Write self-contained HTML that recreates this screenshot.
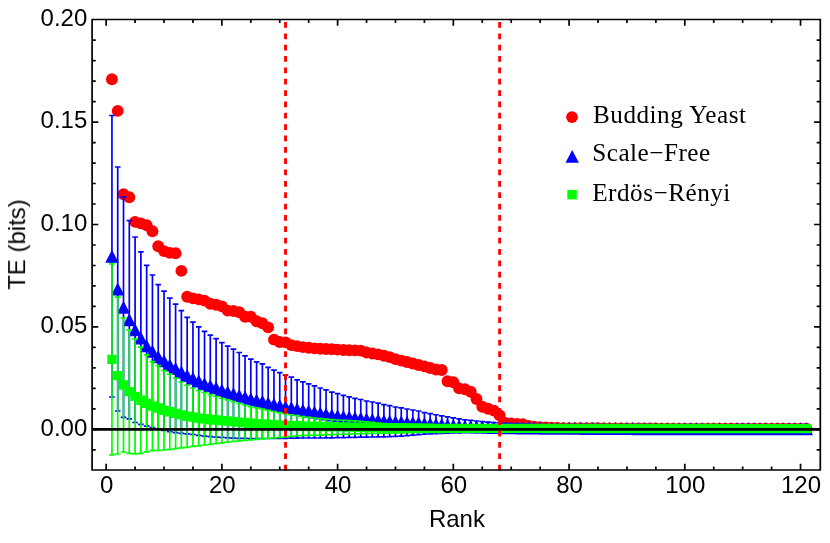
<!DOCTYPE html>
<html><head><meta charset="utf-8"><title>TE vs Rank</title>
<style>html,body{margin:0;padding:0;background:#fff}body{width:830px;height:543px;overflow:hidden;font-family:"Liberation Sans",sans-serif}</style>
</head><body>
<svg width="830" height="543" viewBox="0 0 830 543" style="display:block">
<rect width="830" height="543" fill="#fff"/>
<g fill="#f00">
<circle cx="111.94" cy="79.30" r="5.95"/>
<circle cx="117.72" cy="110.90" r="5.95"/>
<circle cx="123.51" cy="194.20" r="5.95"/>
<circle cx="129.30" cy="197.30" r="5.95"/>
<circle cx="135.08" cy="221.90" r="5.95"/>
<circle cx="140.87" cy="223.40" r="5.95"/>
<circle cx="146.66" cy="225.20" r="5.95"/>
<circle cx="152.44" cy="231.20" r="5.95"/>
<circle cx="158.23" cy="246.20" r="5.95"/>
<circle cx="164.02" cy="251.10" r="5.95"/>
<circle cx="169.80" cy="252.90" r="5.95"/>
<circle cx="175.59" cy="253.30" r="5.95"/>
<circle cx="181.37" cy="270.90" r="5.95"/>
<circle cx="187.16" cy="296.70" r="5.95"/>
<circle cx="192.95" cy="298.40" r="5.95"/>
<circle cx="198.73" cy="299.40" r="5.95"/>
<circle cx="204.52" cy="300.60" r="5.95"/>
<circle cx="210.31" cy="303.80" r="5.95"/>
<circle cx="216.09" cy="304.80" r="5.95"/>
<circle cx="221.88" cy="306.40" r="5.95"/>
<circle cx="227.67" cy="310.60" r="5.95"/>
<circle cx="233.45" cy="311.00" r="5.95"/>
<circle cx="239.24" cy="312.20" r="5.95"/>
<circle cx="245.03" cy="316.80" r="5.95"/>
<circle cx="250.81" cy="316.80" r="5.95"/>
<circle cx="256.60" cy="321.30" r="5.95"/>
<circle cx="262.39" cy="323.20" r="5.95"/>
<circle cx="268.17" cy="327.40" r="5.95"/>
<circle cx="273.96" cy="339.60" r="5.95"/>
<circle cx="279.75" cy="342.00" r="5.95"/>
<circle cx="285.53" cy="342.40" r="5.95"/>
<circle cx="291.32" cy="345.10" r="5.95"/>
<circle cx="297.10" cy="346.10" r="5.95"/>
<circle cx="302.89" cy="347.10" r="5.95"/>
<circle cx="308.68" cy="347.70" r="5.95"/>
<circle cx="314.46" cy="348.40" r="5.95"/>
<circle cx="320.25" cy="348.70" r="5.95"/>
<circle cx="326.04" cy="349.00" r="5.95"/>
<circle cx="331.82" cy="349.30" r="5.95"/>
<circle cx="337.61" cy="349.60" r="5.95"/>
<circle cx="343.40" cy="350.00" r="5.95"/>
<circle cx="349.18" cy="350.20" r="5.95"/>
<circle cx="354.97" cy="350.40" r="5.95"/>
<circle cx="360.76" cy="350.60" r="5.95"/>
<circle cx="366.54" cy="352.50" r="5.95"/>
<circle cx="372.33" cy="353.50" r="5.95"/>
<circle cx="378.12" cy="354.40" r="5.95"/>
<circle cx="383.90" cy="355.80" r="5.95"/>
<circle cx="389.69" cy="357.10" r="5.95"/>
<circle cx="395.48" cy="359.10" r="5.95"/>
<circle cx="401.26" cy="360.60" r="5.95"/>
<circle cx="407.05" cy="362.00" r="5.95"/>
<circle cx="412.83" cy="363.50" r="5.95"/>
<circle cx="418.62" cy="365.00" r="5.95"/>
<circle cx="424.41" cy="366.40" r="5.95"/>
<circle cx="430.19" cy="368.00" r="5.95"/>
<circle cx="435.98" cy="369.50" r="5.95"/>
<circle cx="441.77" cy="370.00" r="5.95"/>
<circle cx="447.55" cy="381.20" r="5.95"/>
<circle cx="453.34" cy="382.20" r="5.95"/>
<circle cx="459.13" cy="388.40" r="5.95"/>
<circle cx="464.91" cy="389.30" r="5.95"/>
<circle cx="470.70" cy="391.80" r="5.95"/>
<circle cx="476.49" cy="399.00" r="5.95"/>
<circle cx="482.27" cy="406.70" r="5.95"/>
<circle cx="488.06" cy="408.70" r="5.95"/>
<circle cx="493.85" cy="410.60" r="5.95"/>
<circle cx="499.63" cy="415.40" r="5.95"/>
<circle cx="505.42" cy="422.90" r="5.95"/>
<circle cx="511.21" cy="423.40" r="5.95"/>
<circle cx="516.99" cy="423.90" r="5.95"/>
<circle cx="522.78" cy="424.20" r="5.95"/>
<circle cx="528.56" cy="426.00" r="5.95"/>
<circle cx="534.35" cy="426.60" r="5.95"/>
<circle cx="540.14" cy="427.20" r="5.95"/>
<circle cx="545.92" cy="427.50" r="5.95"/>
<circle cx="551.71" cy="427.80" r="5.95"/>
<circle cx="557.50" cy="428.00" r="5.95"/>
<circle cx="563.28" cy="428.10" r="5.95"/>
<circle cx="569.07" cy="428.20" r="5.95"/>
<circle cx="574.86" cy="428.22" r="5.95"/>
<circle cx="580.64" cy="428.25" r="5.95"/>
<circle cx="586.43" cy="428.27" r="5.95"/>
<circle cx="592.22" cy="428.30" r="5.95"/>
<circle cx="598.00" cy="428.32" r="5.95"/>
<circle cx="603.79" cy="428.35" r="5.95"/>
<circle cx="609.58" cy="428.38" r="5.95"/>
<circle cx="615.36" cy="428.40" r="5.95"/>
<circle cx="621.15" cy="428.43" r="5.95"/>
<circle cx="626.93" cy="428.45" r="5.95"/>
<circle cx="632.72" cy="428.47" r="5.95"/>
<circle cx="638.51" cy="428.50" r="5.95"/>
<circle cx="644.29" cy="428.52" r="5.95"/>
<circle cx="650.08" cy="428.55" r="5.95"/>
<circle cx="655.87" cy="428.57" r="5.95"/>
<circle cx="661.65" cy="428.60" r="5.95"/>
<circle cx="667.44" cy="428.62" r="5.95"/>
<circle cx="673.23" cy="428.65" r="5.95"/>
<circle cx="679.01" cy="428.68" r="5.95"/>
<circle cx="684.80" cy="428.70" r="5.95"/>
<circle cx="690.59" cy="428.70" r="5.95"/>
<circle cx="696.37" cy="428.70" r="5.95"/>
<circle cx="702.16" cy="428.70" r="5.95"/>
<circle cx="707.95" cy="428.70" r="5.95"/>
<circle cx="713.73" cy="428.70" r="5.95"/>
<circle cx="719.52" cy="428.70" r="5.95"/>
<circle cx="725.31" cy="428.70" r="5.95"/>
<circle cx="731.09" cy="428.70" r="5.95"/>
<circle cx="736.88" cy="428.70" r="5.95"/>
<circle cx="742.66" cy="428.70" r="5.95"/>
<circle cx="748.45" cy="428.70" r="5.95"/>
<circle cx="754.24" cy="428.70" r="5.95"/>
<circle cx="760.02" cy="428.70" r="5.95"/>
<circle cx="765.81" cy="428.70" r="5.95"/>
<circle cx="771.60" cy="428.70" r="5.95"/>
<circle cx="777.38" cy="428.70" r="5.95"/>
<circle cx="783.17" cy="428.70" r="5.95"/>
<circle cx="788.96" cy="428.70" r="5.95"/>
<circle cx="794.74" cy="428.70" r="5.95"/>
<circle cx="800.53" cy="428.70" r="5.95"/>
<circle cx="806.32" cy="428.70" r="5.95"/>
</g>
<path d="M111.94 115.50V397.00M109.14 115.50h5.6M109.14 397.00h5.6M117.72 167.00V411.00M114.92 167.00h5.6M114.92 411.00h5.6M123.51 197.20V417.30M120.71 197.20h5.6M120.71 417.30h5.6M129.30 220.50V418.90M126.50 220.50h5.6M126.50 418.90h5.6M135.08 237.00V422.50M132.28 237.00h5.6M132.28 422.50h5.6M140.87 251.80V424.30M138.07 251.80h5.6M138.07 424.30h5.6M146.66 265.40V426.10M143.86 265.40h5.6M143.86 426.10h5.6M152.44 275.00V427.60M149.64 275.00h5.6M149.64 427.60h5.6M158.23 284.60V429.00M155.43 284.60h5.6M155.43 429.00h5.6M164.02 291.20V430.50M161.22 291.20h5.6M161.22 430.50h5.6M169.80 298.10V431.70M167.00 298.10h5.6M167.00 431.70h5.6M175.59 304.20V432.70M172.79 304.20h5.6M172.79 432.70h5.6M181.37 310.60V433.30M178.57 310.60h5.6M178.57 433.30h5.6M187.16 317.30V433.90M184.36 317.30h5.6M184.36 433.90h5.6M192.95 322.10V434.50M190.15 322.10h5.6M190.15 434.50h5.6M198.73 326.80V435.40M195.93 326.80h5.6M195.93 435.40h5.6M204.52 331.30V436.10M201.72 331.30h5.6M201.72 436.10h5.6M210.31 335.10V436.60M207.51 335.10h5.6M207.51 436.60h5.6M216.09 338.60V437.10M213.29 338.60h5.6M213.29 437.10h5.6M221.88 342.70V437.47M219.08 342.70h5.6M219.08 437.47h5.6M227.67 346.20V437.83M224.87 346.20h5.6M224.87 437.83h5.6M233.45 349.10V438.20M230.65 349.10h5.6M230.65 438.20h5.6M239.24 352.50V438.30M236.44 352.50h5.6M236.44 438.30h5.6M245.03 355.80V438.40M242.23 355.80h5.6M242.23 438.40h5.6M250.81 359.20V438.50M248.01 359.20h5.6M248.01 438.50h5.6M256.60 361.80V438.50M253.80 361.80h5.6M253.80 438.50h5.6M262.39 363.90V438.50M259.59 363.90h5.6M259.59 438.50h5.6M268.17 367.30V438.50M265.37 367.30h5.6M265.37 438.50h5.6M273.96 370.20V438.43M271.16 370.20h5.6M271.16 438.43h5.6M279.75 372.70V438.37M276.94 372.70h5.6M276.94 438.37h5.6M285.53 375.10V438.30M282.73 375.10h5.6M282.73 438.30h5.6M291.32 377.20V438.20M288.52 377.20h5.6M288.52 438.20h5.6M297.10 379.80V438.10M294.30 379.80h5.6M294.30 438.10h5.6M302.89 381.80V438.00M300.09 381.80h5.6M300.09 438.00h5.6M308.68 383.80V438.00M305.88 383.80h5.6M305.88 438.00h5.6M314.46 385.90V438.00M311.66 385.90h5.6M311.66 438.00h5.6M320.25 388.00V438.00M317.45 388.00h5.6M317.45 438.00h5.6M326.04 389.90V437.90M323.24 389.90h5.6M323.24 437.90h5.6M331.82 392.10V437.80M329.02 392.10h5.6M329.02 437.80h5.6M337.61 393.60V437.70M334.81 393.60h5.6M334.81 437.70h5.6M343.40 395.40V437.57M340.60 395.40h5.6M340.60 437.57h5.6M349.18 396.80V437.43M346.38 396.80h5.6M346.38 437.43h5.6M354.97 398.30V437.30M352.17 398.30h5.6M352.17 437.30h5.6M360.76 399.50V437.20M357.96 399.50h5.6M357.96 437.20h5.6M366.54 401.00V437.10M363.74 401.00h5.6M363.74 437.10h5.6M372.33 402.00V437.00M369.53 402.00h5.6M369.53 437.00h5.6M378.12 403.20V436.90M375.32 403.20h5.6M375.32 436.90h5.6M383.90 404.60V436.80M381.10 404.60h5.6M381.10 436.80h5.6M389.69 405.60V436.70M386.89 405.60h5.6M386.89 436.70h5.6M395.48 407.00V436.37M392.68 407.00h5.6M392.68 436.37h5.6M401.26 407.90V436.03M398.46 407.90h5.6M398.46 436.03h5.6M407.05 409.00V435.70M404.25 409.00h5.6M404.25 435.70h5.6M412.83 410.00V435.20M410.03 410.00h5.6M410.03 435.20h5.6M418.62 411.00V434.70M415.82 411.00h5.6M415.82 434.70h5.6M424.41 412.60V434.20M421.61 412.60h5.6M421.61 434.20h5.6M430.19 413.67V433.88M427.39 413.67h5.6M427.39 433.88h5.6M435.98 414.73V433.56M433.18 414.73h5.6M433.18 433.56h5.6M441.77 415.80V433.32M438.97 415.80h5.6M438.97 433.32h5.6M447.55 416.80V433.17M444.75 416.80h5.6M444.75 433.17h5.6M453.34 417.80V433.01M450.54 417.80h5.6M450.54 433.01h5.6M459.13 418.80V432.86M456.33 418.80h5.6M456.33 432.86h5.6M464.91 419.80V432.70M462.11 419.80h5.6M462.11 432.70h5.6M470.70 420.40V432.62M467.90 420.40h5.6M467.90 432.62h5.6M476.49 421.00V432.54M473.69 421.00h5.6M473.69 432.54h5.6M482.27 421.60V432.46M479.47 421.60h5.6M479.47 432.46h5.6M488.06 422.20V432.38M485.26 422.20h5.6M485.26 432.38h5.6M493.85 422.60V432.30M491.05 422.60h5.6M491.05 432.30h5.6M499.63 423.00V432.16M496.83 423.00h5.6M496.83 432.16h5.6M505.42 423.29V432.02M502.62 423.29h5.6M502.62 432.02h5.6M511.21 423.57V431.89M508.41 423.57h5.6M508.41 431.89h5.6M516.99 423.86V431.75M514.19 423.86h5.6M514.19 431.75h5.6M522.78 424.14V431.61M519.98 424.14h5.6M519.98 431.61h5.6M528.56 424.43V431.48M525.76 424.43h5.6M525.76 431.48h5.6M534.35 424.71V431.34M531.55 424.71h5.6M531.55 431.34h5.6M540.14 425.00V431.20M537.34 425.00h5.6M537.34 431.20h5.6M545.92 425.07V431.20M543.12 425.07h5.6M543.12 431.20h5.6M551.71 425.13V431.20M548.91 425.13h5.6M548.91 431.20h5.6M557.50 425.20V431.21M554.70 425.20h5.6M554.70 431.21h5.6M563.28 425.27V431.21M560.48 425.27h5.6M560.48 431.21h5.6M569.07 425.33V431.21M566.27 425.33h5.6M566.27 431.21h5.6M574.86 425.40V431.21M572.06 425.40h5.6M572.06 431.21h5.6M580.64 425.47V431.22M577.84 425.47h5.6M577.84 431.22h5.6M586.43 425.53V431.22M583.63 425.53h5.6M583.63 431.22h5.6M592.22 425.60V431.22M589.42 425.60h5.6M589.42 431.22h5.6M598.00 425.67V431.22M595.20 425.67h5.6M595.20 431.22h5.6M603.79 425.73V431.22M600.99 425.73h5.6M600.99 431.22h5.6M609.58 425.80V431.23M606.78 425.80h5.6M606.78 431.23h5.6M615.36 425.87V431.23M612.56 425.87h5.6M612.56 431.23h5.6M621.15 425.93V431.23M618.35 425.93h5.6M618.35 431.23h5.6M626.93 426.00V431.23M624.13 426.00h5.6M624.13 431.23h5.6M632.72 426.01V431.23M629.92 426.01h5.6M629.92 431.23h5.6M638.51 426.02V431.24M635.71 426.02h5.6M635.71 431.24h5.6M644.29 426.03V431.24M641.49 426.03h5.6M641.49 431.24h5.6M650.08 426.04V431.24M647.28 426.04h5.6M647.28 431.24h5.6M655.87 426.05V431.24M653.07 426.05h5.6M653.07 431.24h5.6M661.65 426.06V431.25M658.85 426.06h5.6M658.85 431.25h5.6M667.44 426.07V431.25M664.64 426.07h5.6M664.64 431.25h5.6M673.23 426.08V431.25M670.43 426.08h5.6M670.43 431.25h5.6M679.01 426.09V431.25M676.21 426.09h5.6M676.21 431.25h5.6M684.80 426.10V431.25M682.00 426.10h5.6M682.00 431.25h5.6M690.59 426.11V431.26M687.79 426.11h5.6M687.79 431.26h5.6M696.37 426.12V431.26M693.57 426.12h5.6M693.57 431.26h5.6M702.16 426.13V431.26M699.36 426.13h5.6M699.36 431.26h5.6M707.95 426.14V431.26M705.15 426.14h5.6M705.15 431.26h5.6M713.73 426.15V431.27M710.93 426.15h5.6M710.93 431.27h5.6M719.52 426.15V431.27M716.72 426.15h5.6M716.72 431.27h5.6M725.31 426.16V431.27M722.51 426.16h5.6M722.51 431.27h5.6M731.09 426.17V431.27M728.29 426.17h5.6M728.29 431.27h5.6M736.88 426.18V431.27M734.08 426.18h5.6M734.08 431.27h5.6M742.66 426.19V431.28M739.87 426.19h5.6M739.87 431.28h5.6M748.45 426.20V431.28M745.65 426.20h5.6M745.65 431.28h5.6M754.24 426.21V431.28M751.44 426.21h5.6M751.44 431.28h5.6M760.02 426.22V431.28M757.22 426.22h5.6M757.22 431.28h5.6M765.81 426.23V431.28M763.01 426.23h5.6M763.01 431.28h5.6M771.60 426.24V431.29M768.80 426.24h5.6M768.80 431.29h5.6M777.38 426.25V431.29M774.58 426.25h5.6M774.58 431.29h5.6M783.17 426.26V431.29M780.37 426.26h5.6M780.37 431.29h5.6M788.96 426.27V431.29M786.16 426.27h5.6M786.16 431.29h5.6M794.74 426.28V431.30M791.94 426.28h5.6M791.94 431.30h5.6M800.53 426.29V431.30M797.73 426.29h5.6M797.73 431.30h5.6M806.32 426.30V431.30M803.52 426.30h5.6M803.52 431.30h5.6" stroke="#00f" stroke-width="1.7" fill="none"/>
<path d="M111.94 249.75L118.64 262.75H105.24ZM117.72 282.50L124.42 295.50H111.02ZM123.51 300.75L130.21 313.75H116.81ZM129.30 313.20L136.00 326.20H122.60ZM135.08 323.25L141.78 336.25H128.38ZM140.87 331.55L147.57 344.55H134.17ZM146.66 339.25L153.36 352.25H139.96ZM152.44 344.80L159.14 357.80H145.74ZM158.23 350.30L164.93 363.30H151.53ZM164.02 354.35L170.72 367.35H157.32ZM169.80 358.40L176.50 371.40H163.10ZM175.59 361.95L182.29 374.95H168.89ZM181.37 365.45L188.07 378.45H174.67ZM187.16 369.10L193.86 382.10H180.46ZM192.95 371.80L199.65 384.80H186.25ZM198.73 374.60L205.43 387.60H192.03ZM204.52 377.20L211.22 390.20H197.82ZM210.31 379.35L217.01 392.35H203.61ZM216.09 381.35L222.79 394.35H209.39ZM221.88 383.58L228.58 396.58H215.18ZM227.67 385.52L234.37 398.52H220.97ZM233.45 387.15L240.15 400.15H226.75ZM239.24 388.90L245.94 401.90H232.54ZM245.03 390.60L251.73 403.60H238.33ZM250.81 392.35L257.51 405.35H244.11ZM256.60 393.65L263.30 406.65H249.90ZM262.39 394.70L269.09 407.70H255.69ZM268.17 396.40L274.87 409.40H261.47ZM273.96 397.82L280.66 410.82H267.26ZM279.75 399.03L286.44 412.03H273.05ZM285.53 400.20L292.23 413.20H278.83ZM291.32 401.20L298.02 414.20H284.62ZM297.10 402.45L303.80 415.45H290.40ZM302.89 403.40L309.59 416.40H296.19ZM308.68 404.40L315.38 417.40H301.98ZM314.46 405.45L321.16 418.45H307.76ZM320.25 406.50L326.95 419.50H313.55ZM326.04 407.40L332.74 420.40H319.34ZM331.82 408.45L338.52 421.45H325.12ZM337.61 409.15L344.31 422.15H330.91ZM343.40 409.98L350.10 422.98H336.70ZM349.18 410.62L355.88 423.62H342.48ZM354.97 411.30L361.67 424.30H348.27ZM360.76 411.85L367.46 424.85H354.06ZM366.54 412.55L373.24 425.55H359.84ZM372.33 413.00L379.03 426.00H365.63ZM378.12 413.55L384.82 426.55H371.42ZM383.90 414.20L390.60 427.20H377.20ZM389.69 414.65L396.39 427.65H382.99ZM395.48 415.18L402.18 428.18H388.78ZM401.26 415.47L407.96 428.47H394.56ZM407.05 415.85L413.75 428.85H400.35ZM412.83 416.10L419.53 429.10H406.13ZM418.62 416.35L425.32 429.35H411.92ZM424.41 416.90L431.11 429.90H417.71ZM430.19 417.27L436.89 430.27H423.49ZM435.98 417.65L442.68 430.65H429.28ZM441.77 418.06L448.47 431.06H435.07ZM447.55 418.48L454.25 431.48H440.85ZM453.34 418.91L460.04 431.91H446.64ZM459.13 419.33L465.83 432.33H452.43ZM464.91 419.75L471.61 432.75H458.21ZM470.70 420.01L477.40 433.01H464.00ZM476.49 420.27L483.19 433.27H469.79ZM482.27 420.53L488.97 433.53H475.57ZM488.06 420.79L494.76 433.79H481.36ZM493.85 420.95L500.55 433.95H487.15ZM499.63 421.08L506.33 434.08H492.93ZM505.42 421.16L512.12 434.16H498.72ZM511.21 421.23L517.91 434.23H504.51ZM516.99 421.30L523.69 434.30H510.29ZM522.78 421.38L529.48 434.38H516.08ZM528.56 421.45L535.26 434.45H521.86ZM534.35 421.53L541.05 434.53H527.65ZM540.14 421.60L546.84 434.60H533.44ZM545.92 421.63L552.62 434.63H539.22ZM551.71 421.67L558.41 434.67H545.01ZM557.50 421.70L564.20 434.70H550.80ZM563.28 421.74L569.98 434.74H556.58ZM569.07 421.77L575.77 434.77H562.37ZM574.86 421.81L581.56 434.81H568.16ZM580.64 421.84L587.34 434.84H573.94ZM586.43 421.88L593.13 434.88H579.73ZM592.22 421.91L598.92 434.91H585.52ZM598.00 421.94L604.70 434.94H591.30ZM603.79 421.98L610.49 434.98H597.09ZM609.58 422.01L616.28 435.01H602.88ZM615.36 422.05L622.06 435.05H608.66ZM621.15 422.08L627.85 435.08H614.45ZM626.93 422.12L633.63 435.12H620.23ZM632.72 422.12L639.42 435.12H626.02ZM638.51 422.13L645.21 435.13H631.81ZM644.29 422.13L650.99 435.13H637.59ZM650.08 422.14L656.78 435.14H643.38ZM655.87 422.15L662.57 435.15H649.17ZM661.65 422.15L668.35 435.15H654.95ZM667.44 422.16L674.14 435.16H660.74ZM673.23 422.16L679.93 435.16H666.53ZM679.01 422.17L685.71 435.17H672.31ZM684.80 422.18L691.50 435.18H678.10ZM690.59 422.18L697.29 435.18H683.89ZM696.37 422.19L703.07 435.19H689.67ZM702.16 422.19L708.86 435.19H695.46ZM707.95 422.20L714.65 435.20H701.25ZM713.73 422.21L720.43 435.21H707.03ZM719.52 422.21L726.22 435.21H712.82ZM725.31 422.22L732.01 435.22H718.61ZM731.09 422.22L737.79 435.22H724.39ZM736.88 422.23L743.58 435.23H730.18ZM742.66 422.23L749.37 435.23H735.96ZM748.45 422.24L755.15 435.24H741.75ZM754.24 422.25L760.94 435.25H747.54ZM760.02 422.25L766.72 435.25H753.32ZM765.81 422.26L772.51 435.26H759.11ZM771.60 422.26L778.30 435.26H764.90ZM777.38 422.27L784.08 435.27H770.68ZM783.17 422.28L789.87 435.28H776.47ZM788.96 422.28L795.66 435.28H782.26ZM794.74 422.29L801.44 435.29H788.04ZM800.53 422.29L807.23 435.29H793.83ZM806.32 422.30L813.02 435.30H799.62Z" fill="#00f"/>
<path d="M111.94 263.90V455.00M109.04 263.90h5.8M109.04 455.00h5.8M117.72 297.10V454.00M114.82 297.10h5.8M114.82 454.00h5.8M123.51 318.00V452.00M120.61 318.00h5.8M120.61 452.00h5.8M129.30 329.90V453.40M126.40 329.90h5.8M126.40 453.40h5.8M135.08 338.90V453.90M132.18 338.90h5.8M132.18 453.90h5.8M140.87 347.10V453.40M137.97 347.10h5.8M137.97 453.40h5.8M146.66 354.90V451.90M143.76 354.90h5.8M143.76 451.90h5.8M152.44 361.60V450.70M149.54 361.60h5.8M149.54 450.70h5.8M158.23 365.50V450.50M155.33 365.50h5.8M155.33 450.50h5.8M164.02 370.70V450.00M161.12 370.70h5.8M161.12 450.00h5.8M169.80 374.20V449.30M166.90 374.20h5.8M166.90 449.30h5.8M175.59 378.00V448.70M172.69 378.00h5.8M172.69 448.70h5.8M181.37 382.00V447.90M178.47 382.00h5.8M178.47 447.90h5.8M187.16 385.20V447.30M184.26 385.20h5.8M184.26 447.30h5.8M192.95 388.00V446.40M190.05 388.00h5.8M190.05 446.40h5.8M198.73 390.50V445.80M195.83 390.50h5.8M195.83 445.80h5.8M204.52 392.50V445.00M201.62 392.50h5.8M201.62 445.00h5.8M210.31 394.60V444.40M207.41 394.60h5.8M207.41 444.40h5.8M216.09 396.50V443.50M213.19 396.50h5.8M213.19 443.50h5.8M221.88 398.30V442.83M218.98 398.30h5.8M218.98 442.83h5.8M227.67 399.80V442.17M224.77 399.80h5.8M224.77 442.17h5.8M233.45 401.60V441.50M230.55 401.60h5.8M230.55 441.50h5.8M239.24 403.30V440.93M236.34 403.30h5.8M236.34 440.93h5.8M245.03 405.00V440.37M242.13 405.00h5.8M242.13 440.37h5.8M250.81 406.70V439.80M247.91 406.70h5.8M247.91 439.80h5.8M256.60 407.90V439.37M253.70 407.90h5.8M253.70 439.37h5.8M262.39 409.10V438.93M259.49 409.10h5.8M259.49 438.93h5.8M268.17 410.30V438.50M265.27 410.30h5.8M265.27 438.50h5.8M273.96 411.50V437.93M271.06 411.50h5.8M271.06 437.93h5.8M279.75 412.70V437.37M276.85 412.70h5.8M276.85 437.37h5.8M285.53 413.90V436.80M282.63 413.90h5.8M282.63 436.80h5.8M291.32 414.77V436.36M288.42 414.77h5.8M288.42 436.36h5.8M297.10 415.63V435.91M294.20 415.63h5.8M294.20 435.91h5.8M302.89 416.50V435.56M299.99 416.50h5.8M299.99 435.56h5.8M308.68 417.25V435.44M305.78 417.25h5.8M305.78 435.44h5.8M314.46 418.00V435.32M311.56 418.00h5.8M311.56 435.32h5.8M320.25 418.70V435.20M317.35 418.70h5.8M317.35 435.20h5.8M326.04 419.13V434.93M323.14 419.13h5.8M323.14 434.93h5.8M331.82 419.57V434.67M328.92 419.57h5.8M328.92 434.67h5.8M337.61 420.00V434.40M334.71 420.00h5.8M334.71 434.40h5.8M343.40 420.27V434.23M340.50 420.27h5.8M340.50 434.23h5.8M349.18 420.53V434.07M346.28 420.53h5.8M346.28 434.07h5.8M354.97 420.80V433.90M352.07 420.80h5.8M352.07 433.90h5.8M360.76 421.35V433.75M357.86 421.35h5.8M357.86 433.75h5.8M366.54 421.90V433.60M363.64 421.90h5.8M363.64 433.60h5.8M372.33 422.47V433.50M369.43 422.47h5.8M369.43 433.50h5.8M378.12 423.03V433.40M375.22 423.03h5.8M375.22 433.40h5.8M383.90 423.60V433.30M381.00 423.60h5.8M381.00 433.30h5.8M389.69 423.74V433.10M386.79 423.74h5.8M386.79 433.10h5.8M395.48 423.89V432.90M392.58 423.89h5.8M392.58 432.90h5.8M401.26 424.03V432.80M398.36 424.03h5.8M398.36 432.80h5.8M407.05 424.17V432.70M404.15 424.17h5.8M404.15 432.70h5.8M412.83 424.31V432.60M409.93 424.31h5.8M409.93 432.60h5.8M418.62 424.46V432.50M415.72 424.46h5.8M415.72 432.50h5.8M424.41 424.60V432.40M421.51 424.60h5.8M421.51 432.40h5.8M430.19 424.68V432.36M427.29 424.68h5.8M427.29 432.36h5.8M435.98 424.76V432.32M433.08 424.76h5.8M433.08 432.32h5.8M441.77 424.84V432.28M438.87 424.84h5.8M438.87 432.28h5.8M447.55 424.92V432.24M444.65 424.92h5.8M444.65 432.24h5.8M453.34 425.00V432.20M450.44 425.00h5.8M450.44 432.20h5.8M459.13 425.02V432.16M456.23 425.02h5.8M456.23 432.16h5.8M464.91 425.03V432.13M462.01 425.03h5.8M462.01 432.13h5.8M470.70 425.05V432.09M467.80 425.05h5.8M467.80 432.09h5.8M476.49 425.07V432.06M473.59 425.07h5.8M473.59 432.06h5.8M482.27 425.08V432.02M479.37 425.08h5.8M479.37 432.02h5.8M488.06 425.10V431.99M485.16 425.10h5.8M485.16 431.99h5.8M493.85 425.11V431.95M490.95 425.11h5.8M490.95 431.95h5.8M499.63 425.13V431.92M496.73 425.13h5.8M496.73 431.92h5.8M505.42 425.15V431.88M502.52 425.15h5.8M502.52 431.88h5.8M511.21 425.16V431.85M508.31 425.16h5.8M508.31 431.85h5.8M516.99 425.18V431.81M514.09 425.18h5.8M514.09 431.81h5.8M522.78 425.20V431.78M519.88 425.20h5.8M519.88 431.78h5.8M528.56 425.21V431.75M525.66 425.21h5.8M525.66 431.75h5.8M534.35 425.23V431.71M531.45 425.23h5.8M531.45 431.71h5.8M540.14 425.25V431.68M537.24 425.25h5.8M537.24 431.68h5.8M545.92 425.26V431.64M543.02 425.26h5.8M543.02 431.64h5.8M551.71 425.28V431.61M548.81 425.28h5.8M548.81 431.61h5.8M557.50 425.30V431.57M554.60 425.30h5.8M554.60 431.57h5.8M563.28 425.31V431.54M560.38 425.31h5.8M560.38 431.54h5.8M569.07 425.33V431.50M566.17 425.33h5.8M566.17 431.50h5.8M574.86 425.34V431.49M571.96 425.34h5.8M571.96 431.49h5.8M580.64 425.36V431.48M577.74 425.36h5.8M577.74 431.48h5.8M586.43 425.38V431.47M583.53 425.38h5.8M583.53 431.47h5.8M592.22 425.39V431.46M589.32 425.39h5.8M589.32 431.46h5.8M598.00 425.41V431.45M595.10 425.41h5.8M595.10 431.45h5.8M603.79 425.43V431.44M600.89 425.43h5.8M600.89 431.44h5.8M609.58 425.44V431.43M606.68 425.44h5.8M606.68 431.43h5.8M615.36 425.46V431.42M612.46 425.46h5.8M612.46 431.42h5.8M621.15 425.48V431.41M618.25 425.48h5.8M618.25 431.41h5.8M626.93 425.49V431.40M624.03 425.49h5.8M624.03 431.40h5.8M632.72 425.51V431.39M629.82 425.51h5.8M629.82 431.39h5.8M638.51 425.52V431.38M635.61 425.52h5.8M635.61 431.38h5.8M644.29 425.54V431.37M641.39 425.54h5.8M641.39 431.37h5.8M650.08 425.56V431.36M647.18 425.56h5.8M647.18 431.36h5.8M655.87 425.57V431.35M652.97 425.57h5.8M652.97 431.35h5.8M661.65 425.59V431.34M658.75 425.59h5.8M658.75 431.34h5.8M667.44 425.61V431.33M664.54 425.61h5.8M664.54 431.33h5.8M673.23 425.62V431.32M670.33 425.62h5.8M670.33 431.32h5.8M679.01 425.64V431.31M676.11 425.64h5.8M676.11 431.31h5.8M684.80 425.66V431.30M681.90 425.66h5.8M681.90 431.30h5.8M690.59 425.67V431.30M687.69 425.67h5.8M687.69 431.30h5.8M696.37 425.69V431.29M693.47 425.69h5.8M693.47 431.29h5.8M702.16 425.70V431.28M699.26 425.70h5.8M699.26 431.28h5.8M707.95 425.72V431.27M705.05 425.72h5.8M705.05 431.27h5.8M713.73 425.74V431.26M710.83 425.74h5.8M710.83 431.26h5.8M719.52 425.75V431.25M716.62 425.75h5.8M716.62 431.25h5.8M725.31 425.77V431.24M722.41 425.77h5.8M722.41 431.24h5.8M731.09 425.79V431.23M728.19 425.79h5.8M728.19 431.23h5.8M736.88 425.80V431.22M733.98 425.80h5.8M733.98 431.22h5.8M742.66 425.82V431.21M739.76 425.82h5.8M739.76 431.21h5.8M748.45 425.84V431.20M745.55 425.84h5.8M745.55 431.20h5.8M754.24 425.85V431.19M751.34 425.85h5.8M751.34 431.19h5.8M760.02 425.87V431.18M757.12 425.87h5.8M757.12 431.18h5.8M765.81 425.89V431.17M762.91 425.89h5.8M762.91 431.17h5.8M771.60 425.90V431.16M768.70 425.90h5.8M768.70 431.16h5.8M777.38 425.92V431.15M774.48 425.92h5.8M774.48 431.15h5.8M783.17 425.93V431.14M780.27 425.93h5.8M780.27 431.14h5.8M788.96 425.95V431.13M786.06 425.95h5.8M786.06 431.13h5.8M794.74 425.97V431.12M791.84 425.97h5.8M791.84 431.12h5.8M800.53 425.98V431.11M797.63 425.98h5.8M797.63 431.11h5.8M806.32 426.00V431.10M803.42 426.00h5.8M803.42 431.10h5.8" stroke="#0f0" stroke-width="1.7" fill="none"/>
<path d="M107.29 354.80h9.3v9.3h-9.3zM113.07 370.90h9.3v9.3h-9.3zM118.86 380.35h9.3v9.3h-9.3zM124.65 387.00h9.3v9.3h-9.3zM130.43 391.75h9.3v9.3h-9.3zM136.22 395.60h9.3v9.3h-9.3zM142.01 398.75h9.3v9.3h-9.3zM147.79 401.50h9.3v9.3h-9.3zM153.58 403.35h9.3v9.3h-9.3zM159.37 405.70h9.3v9.3h-9.3zM165.15 407.10h9.3v9.3h-9.3zM170.94 408.70h9.3v9.3h-9.3zM176.72 410.30h9.3v9.3h-9.3zM182.51 411.60h9.3v9.3h-9.3zM188.30 412.55h9.3v9.3h-9.3zM194.08 413.50h9.3v9.3h-9.3zM199.87 414.10h9.3v9.3h-9.3zM205.66 414.85h9.3v9.3h-9.3zM211.44 415.35h9.3v9.3h-9.3zM217.23 415.92h9.3v9.3h-9.3zM223.02 416.33h9.3v9.3h-9.3zM228.80 416.90h9.3v9.3h-9.3zM234.59 417.47h9.3v9.3h-9.3zM240.38 418.03h9.3v9.3h-9.3zM246.16 418.60h9.3v9.3h-9.3zM251.95 418.98h9.3v9.3h-9.3zM257.74 419.37h9.3v9.3h-9.3zM263.52 419.75h9.3v9.3h-9.3zM269.31 420.07h9.3v9.3h-9.3zM275.10 420.38h9.3v9.3h-9.3zM280.88 420.70h9.3v9.3h-9.3zM286.67 420.91h9.3v9.3h-9.3zM292.45 421.12h9.3v9.3h-9.3zM298.24 421.38h9.3v9.3h-9.3zM304.03 421.70h9.3v9.3h-9.3zM309.81 421.60h9.3v9.3h-9.3zM315.60 421.95h9.3v9.3h-9.3zM321.39 422.04h9.3v9.3h-9.3zM327.17 422.13h9.3v9.3h-9.3zM332.96 422.23h9.3v9.3h-9.3zM338.75 422.32h9.3v9.3h-9.3zM344.53 422.41h9.3v9.3h-9.3zM350.32 422.50h9.3v9.3h-9.3zM356.11 422.63h9.3v9.3h-9.3zM361.89 422.76h9.3v9.3h-9.3zM367.68 422.89h9.3v9.3h-9.3zM373.47 423.02h9.3v9.3h-9.3zM379.25 423.15h9.3v9.3h-9.3zM385.04 423.21h9.3v9.3h-9.3zM390.83 423.26h9.3v9.3h-9.3zM396.61 423.32h9.3v9.3h-9.3zM402.40 423.38h9.3v9.3h-9.3zM408.18 423.44h9.3v9.3h-9.3zM413.97 423.49h9.3v9.3h-9.3zM419.76 423.55h9.3v9.3h-9.3zM425.54 423.60h9.3v9.3h-9.3zM431.33 423.65h9.3v9.3h-9.3zM437.12 423.70h9.3v9.3h-9.3zM442.90 423.75h9.3v9.3h-9.3zM448.69 423.80h9.3v9.3h-9.3zM454.48 423.80h9.3v9.3h-9.3zM460.26 423.80h9.3v9.3h-9.3zM466.05 423.80h9.3v9.3h-9.3zM471.84 423.81h9.3v9.3h-9.3zM477.62 423.81h9.3v9.3h-9.3zM483.41 423.81h9.3v9.3h-9.3zM489.20 423.81h9.3v9.3h-9.3zM494.98 423.81h9.3v9.3h-9.3zM500.77 423.81h9.3v9.3h-9.3zM506.56 423.82h9.3v9.3h-9.3zM512.34 423.82h9.3v9.3h-9.3zM518.13 423.82h9.3v9.3h-9.3zM523.91 423.82h9.3v9.3h-9.3zM529.70 423.82h9.3v9.3h-9.3zM535.49 423.82h9.3v9.3h-9.3zM541.27 423.83h9.3v9.3h-9.3zM547.06 423.83h9.3v9.3h-9.3zM552.85 423.83h9.3v9.3h-9.3zM558.63 423.83h9.3v9.3h-9.3zM564.42 423.83h9.3v9.3h-9.3zM570.21 423.83h9.3v9.3h-9.3zM575.99 423.84h9.3v9.3h-9.3zM581.78 423.84h9.3v9.3h-9.3zM587.57 423.84h9.3v9.3h-9.3zM593.35 423.84h9.3v9.3h-9.3zM599.14 423.84h9.3v9.3h-9.3zM604.93 423.84h9.3v9.3h-9.3zM610.71 423.85h9.3v9.3h-9.3zM616.50 423.85h9.3v9.3h-9.3zM622.28 423.85h9.3v9.3h-9.3zM628.07 423.85h9.3v9.3h-9.3zM633.86 423.85h9.3v9.3h-9.3zM639.64 423.85h9.3v9.3h-9.3zM645.43 423.86h9.3v9.3h-9.3zM651.22 423.86h9.3v9.3h-9.3zM657.00 423.86h9.3v9.3h-9.3zM662.79 423.86h9.3v9.3h-9.3zM668.58 423.86h9.3v9.3h-9.3zM674.36 423.86h9.3v9.3h-9.3zM680.15 423.87h9.3v9.3h-9.3zM685.94 423.87h9.3v9.3h-9.3zM691.72 423.87h9.3v9.3h-9.3zM697.51 423.87h9.3v9.3h-9.3zM703.30 423.87h9.3v9.3h-9.3zM709.08 423.87h9.3v9.3h-9.3zM714.87 423.88h9.3v9.3h-9.3zM720.66 423.88h9.3v9.3h-9.3zM726.44 423.88h9.3v9.3h-9.3zM732.23 423.88h9.3v9.3h-9.3zM738.01 423.88h9.3v9.3h-9.3zM743.80 423.88h9.3v9.3h-9.3zM749.59 423.89h9.3v9.3h-9.3zM755.37 423.89h9.3v9.3h-9.3zM761.16 423.89h9.3v9.3h-9.3zM766.95 423.89h9.3v9.3h-9.3zM772.73 423.89h9.3v9.3h-9.3zM778.52 423.89h9.3v9.3h-9.3zM784.31 423.90h9.3v9.3h-9.3zM790.09 423.90h9.3v9.3h-9.3zM795.88 423.90h9.3v9.3h-9.3zM801.67 423.90h9.3v9.3h-9.3z" fill="#0f0"/>
<line x1="92.1" x2="820.3" y1="429.4" y2="429.4" stroke="#000" stroke-width="2.7"/>
<line x1="285.53" x2="285.53" y1="470.45" y2="19.5" stroke="#f00" stroke-width="2.9" stroke-dasharray="5.75 5.6"/>
<line x1="499.63" x2="499.63" y1="470.45" y2="19.5" stroke="#f00" stroke-width="2.9" stroke-dasharray="5.75 5.6"/>
<path d="M92.1 19.5H820.3V470.0H92.1ZM106.15 470.0v-6.2M106.15 19.5v6.2M135.08 470.0v-3.6M135.08 19.5v3.6M164.02 470.0v-3.6M164.02 19.5v3.6M192.95 470.0v-3.6M192.95 19.5v3.6M221.88 470.0v-6.2M221.88 19.5v6.2M250.81 470.0v-3.6M250.81 19.5v3.6M279.75 470.0v-3.6M279.75 19.5v3.6M308.68 470.0v-3.6M308.68 19.5v3.6M337.61 470.0v-6.2M337.61 19.5v6.2M366.54 470.0v-3.6M366.54 19.5v3.6M395.48 470.0v-3.6M395.48 19.5v3.6M424.41 470.0v-3.6M424.41 19.5v3.6M453.34 470.0v-6.2M453.34 19.5v6.2M482.27 470.0v-3.6M482.27 19.5v3.6M511.21 470.0v-3.6M511.21 19.5v3.6M540.14 470.0v-3.6M540.14 19.5v3.6M569.07 470.0v-6.2M569.07 19.5v6.2M598.00 470.0v-3.6M598.00 19.5v3.6M626.93 470.0v-3.6M626.93 19.5v3.6M655.87 470.0v-3.6M655.87 19.5v3.6M684.80 470.0v-6.2M684.80 19.5v6.2M713.73 470.0v-3.6M713.73 19.5v3.6M742.66 470.0v-3.6M742.66 19.5v3.6M771.60 470.0v-3.6M771.60 19.5v3.6M800.53 470.0v-6.2M800.53 19.5v6.2M92.1 449.89h3.6M820.3 449.89h-3.6M92.1 429.40h6.2M820.3 429.40h-6.2M92.1 408.91h3.6M820.3 408.91h-3.6M92.1 388.42h3.6M820.3 388.42h-3.6M92.1 367.93h3.6M820.3 367.93h-3.6M92.1 347.44h3.6M820.3 347.44h-3.6M92.1 326.95h6.2M820.3 326.95h-6.2M92.1 306.46h3.6M820.3 306.46h-3.6M92.1 285.97h3.6M820.3 285.97h-3.6M92.1 265.48h3.6M820.3 265.48h-3.6M92.1 244.99h3.6M820.3 244.99h-3.6M92.1 224.50h6.2M820.3 224.50h-6.2M92.1 204.01h3.6M820.3 204.01h-3.6M92.1 183.52h3.6M820.3 183.52h-3.6M92.1 163.03h3.6M820.3 163.03h-3.6M92.1 142.54h3.6M820.3 142.54h-3.6M92.1 122.05h6.2M820.3 122.05h-6.2M92.1 101.56h3.6M820.3 101.56h-3.6M92.1 81.07h3.6M820.3 81.07h-3.6M92.1 60.58h3.6M820.3 60.58h-3.6M92.1 40.09h3.6M820.3 40.09h-3.6" stroke="#000" stroke-width="1.7" fill="none" stroke-linejoin="miter"/>
<g font-family="Liberation Sans, sans-serif" font-size="24" fill="#000" opacity="0.999">
<text x="106.65" y="493.3" text-anchor="middle">0</text>
<text x="222.38" y="493.3" text-anchor="middle">20</text>
<text x="338.11" y="493.3" text-anchor="middle">40</text>
<text x="453.84" y="493.3" text-anchor="middle">60</text>
<text x="569.57" y="493.3" text-anchor="middle">80</text>
<text x="685.30" y="493.3" text-anchor="middle">100</text>
<text x="801.03" y="493.3" text-anchor="middle">120</text>
<text x="87.3" y="435.50" text-anchor="end">0.00</text>
<text x="87.3" y="333.05" text-anchor="end">0.05</text>
<text x="87.3" y="230.60" text-anchor="end">0.10</text>
<text x="87.3" y="128.15" text-anchor="end">0.15</text>
<text x="87.3" y="25.70" text-anchor="end">0.20</text>
<text x="456.9" y="527.3" text-anchor="middle">Rank</text>
<text transform="translate(25.1 244.5) rotate(-90)" text-anchor="middle">TE (bits)</text>
</g>
<circle cx="572" cy="117.1" r="5.9" fill="#f00"/>
<path d="M572.2 150L578.9 162.7H565.5Z" fill="#00f"/>
<rect x="567.3" y="189.9" width="9.5" height="9.5" fill="#0f0"/>
<g font-family="Liberation Serif, serif" font-size="25.2" letter-spacing="0.5" fill="#000" opacity="0.999">
<text x="593" y="122.9">Budding Yeast</text>
<text x="592.2" y="161.0">Scale−Free</text>
<text x="592.2" y="200.6">Erdös−Rényi</text>
</g>
</svg>
</body></html>
